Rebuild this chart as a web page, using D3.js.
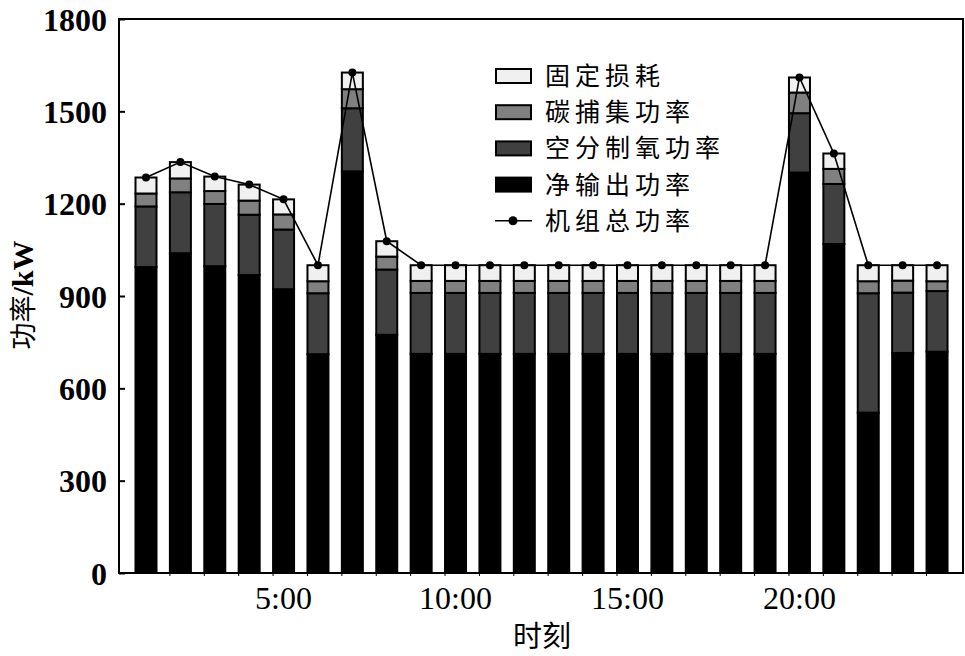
<!DOCTYPE html>
<html>
<head>
<meta charset="utf-8">
<script src="https://cdn.jsdelivr.net/npm/d3@7/dist/d3.min.js"></script>
<style>
  html, body { margin: 0; padding: 0; background: #fff; }
  svg { display: block; }
</style>
</head>
<body>
<svg id="chart" width="965" height="656"></svg>
<script>
// ---- data ----
const hours = d3.range(1, 25);
const netOutput  = [994, 1039, 997, 968, 922, 711, 1305, 774, 712, 712, 712, 712, 712, 712, 712, 712, 712, 712, 712, 1301, 1069, 521, 715, 719];
const airSep     = [197, 198, 202, 196, 194, 198, 205, 212, 198, 198, 198, 198, 198, 198, 198, 198, 198, 198, 198, 193, 195, 388, 196, 197];
const carbonCap  = [42, 45, 42, 46, 49, 39, 62, 42, 39, 39, 39, 39, 39, 39, 39, 39, 39, 39, 39, 67, 49, 39, 39, 32];
const fixedLoss  = [52, 53, 47, 52, 49, 52, 54, 50, 51, 51, 51, 51, 51, 51, 51, 51, 51, 51, 51, 49, 50, 52, 50, 52];
const totalPower = [1285, 1335, 1288, 1262, 1214, 1000, 1626, 1078, 1000, 1000, 1000, 1000, 1000, 1000, 1000, 1000, 1000, 1000, 1000, 1610, 1363, 1000, 1000, 1000];
const yTicks = [0, 300, 600, 900, 1200, 1500, 1800];
const xTickHours = [5, 10, 15, 20];
const xTickLabels = ["5:00", "10:00", "15:00", "20:00"];
const seriesNames = ["净输出功率", "空分制氧功率", "碳捕集功率", "固定损耗"];
const legendNames = ["固定损耗", "碳捕集功率", "空分制氧功率", "净输出功率", "机组总功率"];

const colors = {"净输出功率": "#000000", "空分制氧功率": "#404040", "碳捕集功率": "#808080", "固定损耗": "#f0f0f0"};

// ---- layout ----
const L = 119, R = 963, T = 19, B = 573;
const svg = d3.select("#chart");
const x = d3.scaleLinear().domain([0.215, 24.755]).range([L, R]);
const y = d3.scaleLinear().domain([0, 1800]).range([B, T]);
const barW = 21;

const rows = hours.map((h, i) => ({
  hour: h,
  "净输出功率": netOutput[i],
  "空分制氧功率": airSep[i],
  "碳捕集功率": carbonCap[i],
  "固定损耗": fixedLoss[i]
}));
const stacked = d3.stack().keys(seriesNames)(rows);

const serif = "'Liberation Serif', 'Times New Roman', serif";
const cjk = "'Noto Sans CJK SC', sans-serif";

// bars
const gBars = svg.append("g");
stacked.forEach(layer => {
  gBars.selectAll(null)
    .data(layer)
    .join("rect")
    .attr("x", d => x(d.data.hour) - barW / 2)
    .attr("width", barW)
    .attr("y", d => y(d[1]))
    .attr("height", d => y(d[0]) - y(d[1]))
    .attr("fill", colors[layer.key])
    .attr("stroke", "#000")
    .attr("stroke-width", 2);
});

// line of total power
const line = d3.line().x((d, i) => x(hours[i])).y(d => y(d));
svg.append("path")
  .datum(totalPower)
  .attr("d", line)
  .attr("fill", "none")
  .attr("stroke", "#000")
  .attr("stroke-width", 1.6);
svg.append("g").selectAll("circle")
  .data(totalPower)
  .join("circle")
  .attr("cx", (d, i) => x(hours[i]))
  .attr("cy", d => y(d))
  .attr("r", 4)
  .attr("fill", "#000");

// frame
svg.append("rect")
  .attr("x", L).attr("y", T)
  .attr("width", R - L).attr("height", B - T)
  .attr("fill", "none").attr("stroke", "#000").attr("stroke-width", 2);

// y axis ticks (inward) and labels
const yAxis = d3.axisLeft(y).tickValues(yTicks).tickFormat(d3.format("d"))
  .tickSizeInner(-6).tickSizeOuter(0).tickPadding(12);
const gy = svg.append("g").attr("transform", `translate(${L},0)`).call(yAxis);
gy.select(".domain").remove();
gy.selectAll(".tick line").attr("stroke", "#000").attr("stroke-width", 2);
gy.selectAll(".tick text")
  .attr("font-family", serif)
  .attr("font-size", 32)
  .attr("font-weight", "bold")
  .attr("fill", "#000")
  .attr("dy", "0.35em");

// x axis: small ticks and labels
const gx = svg.append("g");
gx.selectAll("line")
  .data(hours.slice(1))
  .join("line")
  .attr("x1", d => x(d) - barW / 2).attr("x2", d => x(d) - barW / 2)
  .attr("y1", B).attr("y2", B + 3)
  .attr("stroke", "#000").attr("stroke-width", 1);
gx.selectAll("text")
  .data(xTickHours)
  .join("text")
  .attr("x", d => x(d))
  .attr("y", 609)
  .attr("text-anchor", "middle")
  .attr("font-family", serif)
  .attr("font-size", 32)
  .attr("fill", "#000")
  .text((d, i) => xTickLabels[i]);

// axis titles
svg.append("text")
  .attr("x", 542).attr("y", 647)
  .attr("text-anchor", "middle")
  .attr("font-family", cjk)
  .attr("font-size", 29)
  .attr("fill", "#000")
  .text("时刻");

const yt = svg.append("text")
  .attr("transform", "translate(33,295) rotate(-90)")
  .attr("text-anchor", "middle")
  .attr("fill", "#000");
yt.append("tspan").attr("font-family", cjk).attr("font-size", 27).text("功率");
yt.append("tspan").attr("font-family", serif).attr("font-size", 30).attr("font-weight", "bold").text("/kW");

// legend
const lgX = 495, lgY0 = 76, lgStep = 36.2;
const lg = svg.append("g");
legendNames.forEach((name, i) => {
  const cy = lgY0 + i * lgStep;
  if (i < 4) {
    lg.append("rect")
      .attr("x", lgX + 1).attr("y", cy - 7)
      .attr("width", 35).attr("height", 14)
      .attr("fill", colors[name])
      .attr("stroke", "#000").attr("stroke-width", 2);
  } else {
    lg.append("line")
      .attr("x1", lgX).attr("x2", lgX + 37)
      .attr("y1", cy).attr("y2", cy)
      .attr("stroke", "#000").attr("stroke-width", 1.6);
    lg.append("circle")
      .attr("cx", lgX + 18).attr("cy", cy).attr("r", 4.5).attr("fill", "#000");
  }
  lg.append("text")
    .attr("x", 545).attr("y", cy)
    .attr("dy", "0.36em")
    .attr("font-family", cjk)
    .attr("font-size", 25)
    .attr("letter-spacing", 5)
    .attr("fill", "#000")
    .text(name);
});
</script>
</body>
</html>
